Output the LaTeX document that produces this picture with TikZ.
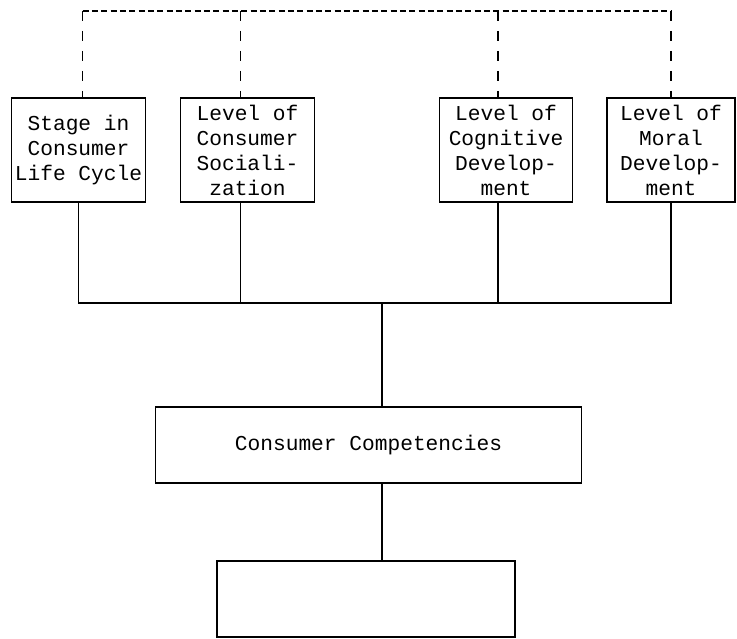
\documentclass[tikz,border=0pt]{standalone}
\usepackage{fontspec}
\setmonofont{Liberation Mono}
\usepackage{tikz}
\usetikzlibrary{positioning}

\begin{document}
\begin{tikzpicture}[x=0.75pt, y=-0.75pt,
    box/.style={draw, rectangle, align=center, inner sep=0pt, minimum width=100pt, minimum height=78pt, line width=0.8pt, font=\ttfamily\fontsize{15.9}{18.75}\selectfont},
    link/.style={line width=0.8pt},
    dashlink/.style={line width=0.8pt, dash pattern=on 7.5pt off 7.5pt},
    toplink/.style={line width=0.8pt, dash pattern=on 4.5pt off 2.5pt}
]
    \useasboundingbox (0,0) rectangle (737,638);

    \node (stage) [box] at (78.5,150) {Stage in\\Consumer\\Life Cycle};
    \node (social) [box] at (247.5,150) {Level of\\Consumer\\Sociali-\\zation};
    \node (cognitive) [box] at (506,150) {Level of\\Cognitive\\Develop-\\ment};
    \node (moral) [box, minimum width=96pt] at (671,150) {Level of\\Moral\\Develop-\\ment};
    \node (comp) [box, minimum width=320pt, minimum height=57pt] at (368.5,445) {Consumer Competencies};
    \node (result) [box, minimum width=223.5pt, minimum height=57pt] at (366,599) {};

    \coordinate (top) at (382,11);
    \coordinate (bus) at (382,303);

    % dashed links at the top
    \draw [toplink] ([xshift=3pt]stage.north |- top) -- (moral.north |- top);
    \draw [dashlink] (moral.north |- top) -- (moral.north);
    \draw [dashlink] ([xshift=3pt]stage.north |- top) -- ([xshift=3pt]stage.north);
    \draw [dashlink] ([xshift=-5.6pt]social.north |- top) -- ([xshift=-5.6pt]social.north);
    \draw [dashlink] ([xshift=-6pt]cognitive.north |- top) -- ([xshift=-6pt]cognitive.north);

    % solid links below
    \draw [link] (stage.south) -- (stage.south |- bus) -- (moral.south |- bus) -- (moral.south);
    \draw [link] ([xshift=-5.6pt]social.south) -- ([xshift=-5.6pt]social.south |- bus);
    \draw [link] ([xshift=-6pt]cognitive.south) -- ([xshift=-6pt]cognitive.south |- bus);
    \draw [link] (bus) -- (comp.north -| bus);
    \draw [link] (comp.south -| bus) -- (result.north -| bus);
\end{tikzpicture}
\end{document}
